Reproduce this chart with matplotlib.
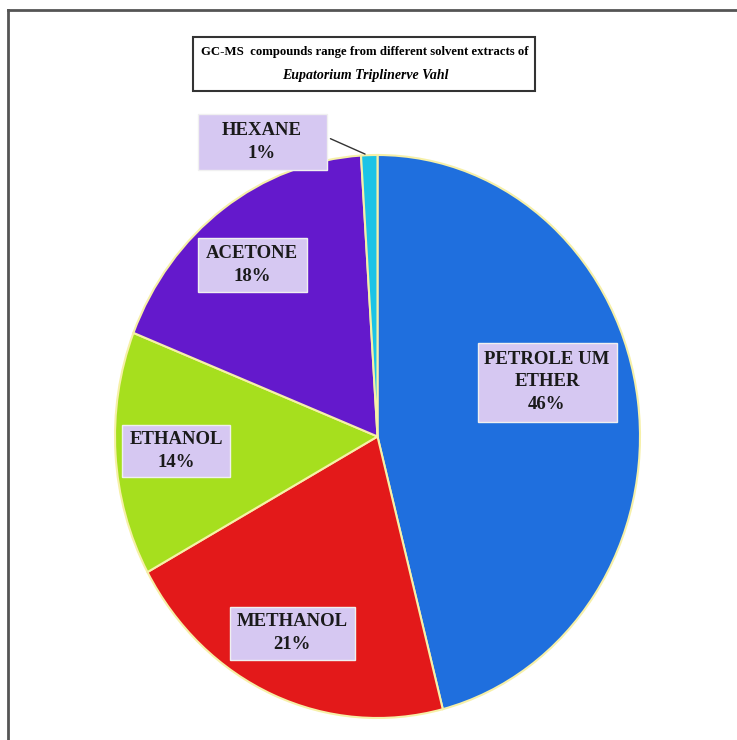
import numpy as np
import matplotlib.pyplot as plt
from matplotlib.patches import Rectangle
from matplotlib.lines import Line2D

# data
solvents = ["PETROLE UM\nETHER", "METHANOL", "ETHANOL", "ACETONE", "HEXANE"]
shares = [46, 21, 14, 18, 1]
colors = ["#1f6fde", "#e3191a", "#a6df1e", "#6419cc", "#1cc3e6"]

# label boxes: centre (px) and size (px) in figure pixels
label_box = [((547, 382), (139, 79)), ((292, 633), (125, 53)),
             ((176, 451), (108, 52)), ((252, 265), (109, 54)),
             ((262, 142), (129, 55))]

W, H = 737, 740
fig = plt.figure(figsize=(W / 100, H / 100), dpi=100)
fig.patch.set_facecolor("white")

# outer frame (top and left borders only visible)
fig.add_artist(Line2D([8 / W, 1], [1 - 10 / H, 1 - 10 / H], color="#555555", lw=2))
fig.add_artist(Line2D([8 / W, 8 / W], [0, 1 - 10 / H], color="#555555", lw=2))

# pie axes, stretched so the pie is slightly elliptical
ax = fig.add_axes([115 / W, 1 - 718 / H, 525 / W, 563 / H])
wedges, _ = ax.pie(shares, colors=colors, startangle=90, counterclock=False,
                   wedgeprops=dict(edgecolor="#f6f0a8", linewidth=1.5))
ax.set_aspect("auto")
ax.set_xlim(-1, 1)
ax.set_ylim(-1, 1)
ax.axis("off")

# leader line for the tiny hexane slice
theta = np.deg2rad(90 + 3.6 * 0.6)
ax.annotate("", xy=(np.cos(theta), np.sin(theta)), xytext=(-0.189, 1.062),
            arrowprops=dict(arrowstyle="-", color="#333333", lw=1),
            annotation_clip=False)

for name, val, ((cx, cy), (bw, bh)) in zip(solvents, shares, label_box):
    fig.add_artist(Rectangle(((cx - bw / 2) / W, 1 - (cy + bh / 2) / H), bw / W, bh / H,
                             transform=fig.transFigure, facecolor="#d6c8f2",
                             edgecolor="#f0f0f0", lw=1))
    fig.text(cx / W, 1 - cy / H, f"{name}\n{val}%", ha="center", va="center",
             family="Liberation Serif", fontweight="bold", fontsize=13.5,
             color="#1a1a1a", linespacing=1.45)

# title box
fig.add_artist(Rectangle((193 / W, 1 - 91 / H), 342 / W, 54 / H,
                         transform=fig.transFigure, facecolor="white",
                         edgecolor="#333333", lw=1.5))
fig.text(365 / W, 1 - 52 / H, "GC-MS  compounds range from different solvent extracts of",
         ha="center", va="center", family="Liberation Serif", fontweight="bold",
         fontsize=9.2)
fig.text(365 / W, 1 - 76 / H, "Eupatorium Triplinerve Vahl", ha="center", va="center",
         family="Liberation Serif", fontweight="bold", style="italic", fontsize=10)

fig.savefig("out.png", dpi=100)
